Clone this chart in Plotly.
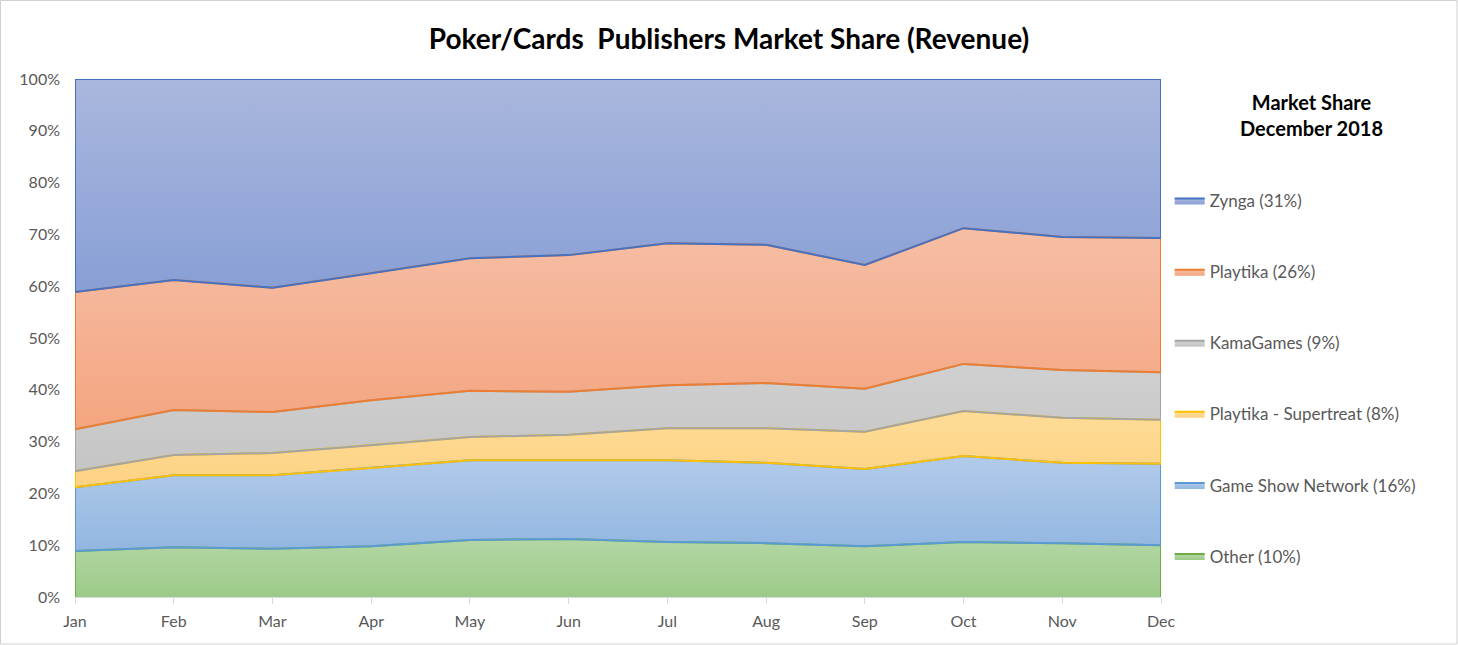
import plotly.graph_objects as go

MONTHS = ["Jan", "Feb", "Mar", "Apr", "May", "Jun", "Jul", "Aug", "Sep", "Oct", "Nov", "Dec"]

# monthly revenue share (%), bottom to top of the stack
OTHER = [8.9, 9.6, 9.3, 9.8, 11.0, 11.2, 10.6, 10.4, 9.8, 10.6, 10.4, 10.0]
GSN = [12.3, 13.9, 14.2, 15.1, 15.4, 15.2, 15.8, 15.5, 14.9, 16.6, 15.5, 15.7]
SUPERTREAT = [3.1, 3.9, 4.3, 4.4, 4.5, 4.9, 6.2, 6.7, 7.2, 8.7, 8.7, 8.5]
KAMAGAMES = [8.1, 8.7, 7.9, 8.7, 8.9, 8.3, 8.3, 8.7, 8.3, 9.1, 9.2, 9.2]
PLAYTIKA = [26.5, 25.1, 24.0, 24.5, 25.6, 26.4, 27.4, 26.7, 23.9, 26.2, 25.7, 25.9]
ZYNGA = [41.1, 38.8, 40.3, 37.5, 34.6, 34.0, 31.7, 32.0, 35.9, 28.8, 30.5, 30.7]

SERIES = [
    ("Other (10%)", OTHER, "#70ad47", "#b3d6a5", "#9ccb88"),
    ("Game Show Network (16%)", GSN, "#5b9bd5", "#b2cbea", "#92b6e1"),
    ("Playtika - Supertreat (8%)", SUPERTREAT, "#ffc000", "#fedc97", "#fdd283"),
    ("KamaGames (9%)", KAMAGAMES, "#a5a5a5", "#d0d0d0", "#c5c5c5"),
    ("Playtika (26%)", PLAYTIKA, "#ed7d31", "#f6bea5", "#f4a580"),
    ("Zynga (31%)", ZYNGA, "#4472c4", "#aab7de", "#889fd5"),
]

FONT = "Lato, 'Open Sans', sans-serif"

fig = go.Figure()
for i, (name, vals, line_c, top_c, bot_c) in enumerate(SERIES):
    fig.add_trace(go.Scatter(
        x=MONTHS,
        y=vals,
        name=name,
        mode="lines",
        stackgroup="one",
        legendgroup=str(i),
        legendrank=len(SERIES) - i,
        line=dict(color=line_c, width=2),
        fillgradient=dict(type="vertical", colorscale=[[0, bot_c], [1, top_c]]),
        hovertemplate="%{x}: %{y:.1f}%<extra>" + name + "</extra>",
    ))

# Excel outlines the whole area of each series: redraw the lower edge and the
# two side edges in the series colour so the boundary takes the upper colour
lower = [0.0] * len(MONTHS)
for i, (name, vals, line_c, top_c, bot_c) in enumerate(SERIES):
    upper = [a + b for a, b in zip(lower, vals)]
    bottom = list(lower) if i > 0 else [0.0] + [None] * (len(MONTHS) - 2) + [0.0]
    fig.add_trace(go.Scatter(
        x=["Jan"] + MONTHS + ["Dec"],
        y=[upper[0]] + bottom + [upper[-1]],
        mode="lines",
        connectgaps=False,
        line=dict(color=line_c, width=2),
        showlegend=False,
        hoverinfo="skip",
    ))
    lower = upper

fig.add_annotation(
    text="<b>Market Share<br>December 2018</b>",
    xref="paper", yref="paper",
    x=(1311 - 75) / 1086, y=(597 - 115) / 518,
    xanchor="center", yanchor="middle",
    showarrow=False,
    font=dict(size=20, color="black", family=FONT),
)

fig.update_layout(
    width=1458,
    height=645,
    paper_bgcolor="white",
    plot_bgcolor="white",
    font=dict(family=FONT, color="#595959", size=16),
    title=dict(
        text="<b>Poker/Cards  Publishers Market Share (Revenue)</b>",
        x=0.5, xanchor="center", y=0.94, yanchor="middle",
        font=dict(size=28, color="black", family=FONT),
    ),
    margin=dict(l=75, r=297, t=79, b=48),
    xaxis=dict(
        range=[0, 11],
        showgrid=False,
        showline=True,
        linecolor="#d9d9d9",
        linewidth=1,
        ticks="outside",
        tickcolor="#d9d9d9",
        ticklen=6,
        ticklabelstandoff=4,
        tickfont=dict(size=16, color="#595959"),
    ),
    yaxis=dict(
        range=[0, 100],
        dtick=10,
        ticksuffix="%",
        showgrid=False,
        zeroline=False,
        showline=False,
        ticklabelstandoff=14,
        tickfont=dict(size=16, color="#595959"),
    ),
    legend=dict(
        traceorder="grouped",
        tracegroupgap=46,
        x=1.008, xanchor="left",
        y=(597 - 183) / 518, yanchor="top",
        maxheight=600,
        font=dict(size=17, color="#595959"),
        itemwidth=30,
    ),
    shapes=[dict(
        type="rect", xref="paper", yref="paper",
        x0=-74.5 / 1086, x1=1 + 296 / 1086, y0=-47 / 518, y1=1 + 78.5 / 518,
        line=dict(color="#d0d0d0", width=1),
    )],
)

fig.write_html(
    "out.html",
    config={"displayModeBar": False},
    post_script="document.body.style.margin='0';",
)
